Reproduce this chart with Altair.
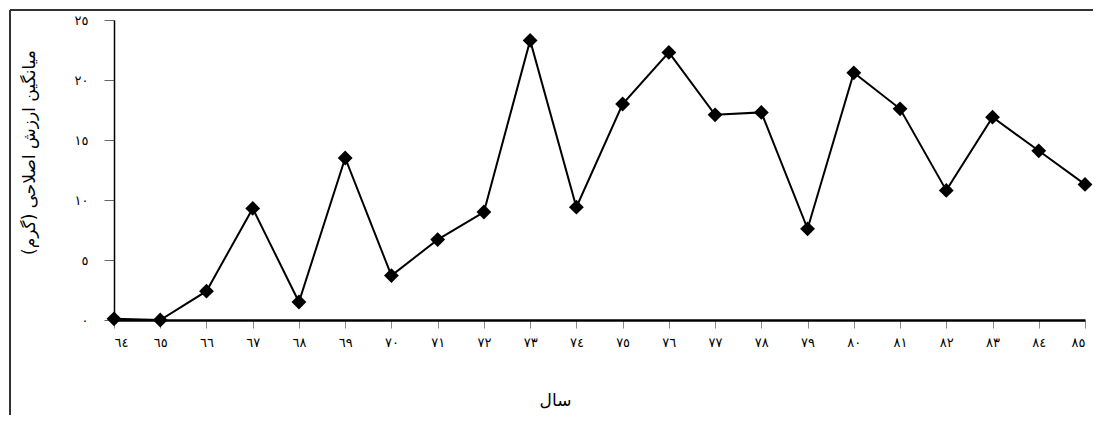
import altair as alt
import pandas as pd

years = list(range(64, 86))
values = [0.1, 0.0, 2.4, 9.3, 1.5, 13.5, 3.7, 6.7, 9.0, 23.3, 9.4,
          18.0, 22.3, 17.1, 17.3, 7.6, 20.6, 17.6, 10.8, 16.9, 14.1, 11.3]
y_ticks = [0, 5, 10, 15, 20, 25]
x_title = "سال"
y_title = "میانگین ارزش اصلاحی (گرم)"

df = pd.DataFrame({"year": years, "value": values})

D = "['٠','١','٢','٣','٤','٥','٦','٧','٨','٩']"
digit_expr = (f"datum.value < 10 ? {D}[datum.value] : "
              f"{D}[floor(datum.value/10)] + {D}[datum.value % 10]")

FONT = "DejaVu Sans"

x = alt.X("year:Q", scale=alt.Scale(domain=[64, 85], nice=False, zero=False),
          axis=alt.Axis(values=years, labelExpr=digit_expr, grid=False,
                        domainColor="black", domainWidth=2.5, tickColor="#888",
                        tickSize=8, tickWidth=1, labelPadding=8, labelFontSize=13,
                        labelFont=FONT, labelColor="black", labelFontWeight="normal",
                        title=x_title, titleFont=FONT, titleFontSize=17,
                        titleFontWeight="normal", titleColor="black",
                        titleX=441, titleY=80, titleBaseline="middle"))
y = alt.Y("value:Q", scale=alt.Scale(domain=[0, 25], nice=False),
          axis=alt.Axis(values=y_ticks, labelExpr=digit_expr, grid=False,
                        domainColor="black", domainWidth=1.5, tickColor="#666",
                        tickSize=10, tickWidth=1, labelPadding=16, labelFontSize=13,
                        labelFont=FONT, labelColor="black", labelFontWeight="normal",
                        title=y_title, titleFont=FONT, titleFontSize=17,
                        titleFontWeight="normal", titleColor="black",
                        titleX=-85, titleY=132, titleAlign="center",
                        titleBaseline="middle", titleAngle=270))

base = alt.Chart(df).encode(x=x, y=y)
line = base.mark_line(color="black", strokeWidth=2)
pts = base.mark_point(shape="diamond", filled=True, color="black",
                      size=220, opacity=1)

frame_top = alt.Chart(df).mark_rule(color="#333", strokeWidth=1.5).encode(
    x=alt.value(-104), x2=alt.value(1100), y=alt.value(-10))
frame_left = alt.Chart(df).mark_rule(color="#333", strokeWidth=1.5).encode(
    x=alt.value(-104), y=alt.value(-10), y2=alt.value(420))

chart = alt.layer(frame_top, frame_left, line, pts).properties(
    width=971, height=300,
    background="white",
    autosize=alt.AutoSizeParams(type="none"),
    padding={"left": 106, "top": 12, "right": 8, "bottom": 95},
).configure_view(stroke="transparent", strokeWidth=0).configure_axis(grid=False)

chart.save("out.html", embed_options={"renderer": "svg", "actions": False})
